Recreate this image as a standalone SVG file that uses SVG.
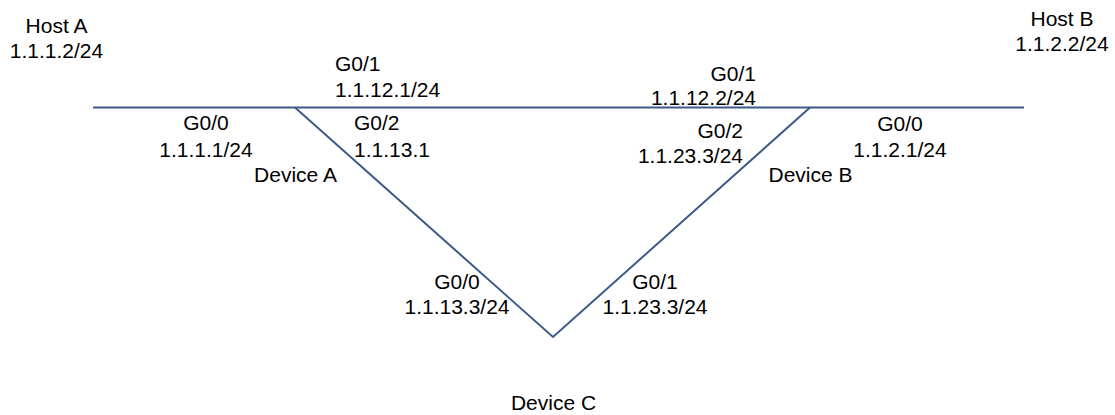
<svg xmlns="http://www.w3.org/2000/svg" width="1115" height="415" viewBox="0 0 1115 415">
<style>
text{font-family:"Liberation Sans",Arial,sans-serif;font-size:21px;fill:#000}
.c{text-anchor:middle}
.e{text-anchor:end}
.ln{stroke:#3C5A87;stroke-width:2;fill:none}
</style>
<rect width="1115" height="415" fill="#fff"/>
<g id="connectors">
<line class="ln" x1="93" y1="107.5" x2="1024" y2="107.5"/>
<polyline class="ln" stroke-width="1.6" points="295,107.5 553,337 810,107.5"/>
</g>
<g id="hostA">
<text class="c" x="56.5" y="33">Host A</text>
<text class="c" x="56.5" y="58">1.1.1.2/24</text>
</g>
<g id="hostB">
<text class="c" x="1062" y="26">Host B</text>
<text class="c" x="1062" y="51">1.1.2.2/24</text>
</g>
<g id="deviceA">
<text class="c" x="295.5" y="182">Device A</text>
<text x="335" y="71">G0/1</text>
<text x="335" y="97">1.1.12.1/24</text>
<text class="c" x="206" y="130">G0/0</text>
<text class="c" x="206" y="157">1.1.1.1/24</text>
<text x="354" y="130">G0/2</text>
<text x="354" y="157">1.1.13.1</text>
</g>
<g id="deviceB">
<text class="c" x="810.5" y="182">Device B</text>
<text class="e" x="756" y="81">G0/1</text>
<text class="e" x="756" y="105">1.1.12.2/24</text>
<text class="e" x="743" y="138">G0/2</text>
<text class="e" x="743" y="163">1.1.23.3/24</text>
<text class="c" x="900" y="131">G0/0</text>
<text class="c" x="900" y="157">1.1.2.1/24</text>
</g>
<g id="deviceC">
<text class="c" x="553.5" y="410">Device C</text>
<text class="c" x="457" y="289">G0/0</text>
<text class="c" x="457" y="314">1.1.13.3/24</text>
<text class="c" x="655" y="289">G0/1</text>
<text class="c" x="655" y="314">1.1.23.3/24</text>
</g>
</svg>
